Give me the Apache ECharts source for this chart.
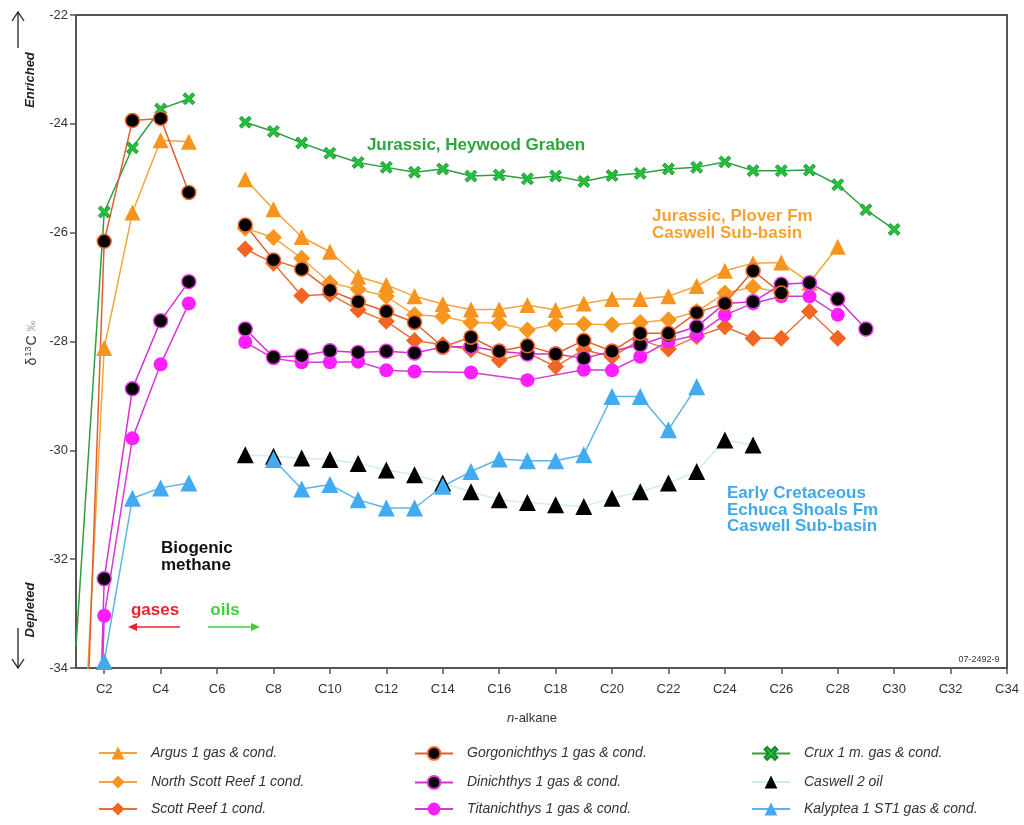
<!DOCTYPE html>
<html><head><meta charset="utf-8">
<script src="https://cdn.jsdelivr.net/npm/echarts@6/dist/echarts.min.js"></script>
<style>html,body{margin:0;padding:0;background:#fff}#c{width:1024px;height:825px}</style>
</head><body><div id="c"></div>
<script>
// carbon numbers C1..C30
const carbons = [1,2,3,4,5,6,7,8,9,10,11,12,13,14,15,16,17,18,19,20,21,22,23,24,25,26,27,28,29,30];
const xTickValues = [2,4,6,8,10,12,14,16,18,20,22,24,26,28,30,32,34];

const argus    = [-38.3,-28.12,-25.63,-24.30,-24.33,null,-25.02,-25.57,-26.08,-26.35,-26.81,-26.96,-27.17,-27.31,-27.41,-27.41,-27.33,-27.42,-27.30,-27.22,-27.22,-27.17,-26.98,-26.70,-26.56,-26.55,-26.92,-26.26,null,null];
const nScott   = [null,null,null,null,null,null,-25.92,-26.09,-26.47,-26.92,-27.04,-27.17,-27.51,-27.54,-27.65,-27.66,-27.79,-27.68,-27.68,-27.69,-27.65,-27.60,-27.45,-27.11,-27.00,-27.10,null,null,null,null];
const scottReef= [null,null,null,null,null,null,-26.30,-26.56,-27.16,-27.13,-27.42,-27.63,-27.98,-28.06,-28.15,-28.34,-28.21,-28.46,-28.15,-28.28,-27.97,-28.14,-27.91,-27.73,-27.94,-27.94,-27.45,-27.94,null,null];
const gorgon   = [-40.7,-26.16,-23.94,-23.90,-25.26,null,-25.86,-26.50,-26.67,-27.06,-27.27,-27.45,-27.65,-28.10,-27.92,-28.18,-28.08,-28.23,-27.98,-28.18,-27.85,-27.85,-27.47,-27.30,-26.70,-27.11,null,null,null,null];
const dinich   = [-50,-32.36,-28.87,-27.62,-26.90,null,-27.77,-28.29,-28.26,-28.17,-28.20,-28.18,-28.21,-28.10,-28.09,-28.18,-28.23,-28.23,-28.31,-28.18,-28.06,-27.89,-27.73,-27.30,-27.27,-26.95,-26.92,-27.22,-27.77,null];
const titan    = [-50,-33.04,-29.78,-28.42,-27.30,null,-28.01,-28.31,-28.38,-28.38,-28.37,-28.53,-28.55,null,-28.57,null,-28.71,null,-28.52,-28.53,-28.28,-28.00,-27.88,-27.51,-27.30,-27.17,-27.17,-27.51,null,null];
const crux     = [-33.6,-25.62,-24.44,-23.73,-23.54,null,-23.97,-24.14,-24.35,-24.54,-24.71,-24.80,-24.89,-24.83,-24.96,-24.94,-25.01,-24.96,-25.06,-24.95,-24.91,-24.83,-24.80,-24.70,-24.86,-24.86,-24.85,-25.12,-25.58,-25.94];
const caswell  = [null,null,null,null,null,null,-30.08,-30.11,-30.14,-30.17,-30.24,-30.36,-30.45,-30.60,-30.76,-30.91,-30.96,-31.00,-31.03,-30.88,-30.76,-30.60,-30.39,-29.81,-29.90,null,null,null,null,null];
const kalyptea = [-50,-33.88,-30.88,-30.69,-30.60,null,null,-30.17,-30.71,-30.63,-30.91,-31.06,-31.06,-30.66,-30.39,-30.16,-30.19,-30.19,-30.08,-29.01,-29.01,-29.62,-28.83,null,null,null,null,null,null,null];

const names = {
  argus:'Argus 1 gas & cond.', nScott:'North Scott Reef 1 cond.', scottReef:'Scott Reef 1 cond.',
  gorgon:'Gorgonichthys 1 gas & cond.', dinich:'Dinichthys 1 gas & cond.', titan:'Titanichthys 1 gas & cond.',
  crux:'Crux 1 m. gas & cond.', caswell:'Caswell 2 oil', kalyptea:'Kalyptea 1 ST1 gas & cond.'
};
// legend grid: columns then rows
const legendColumns = [[names.argus,names.nScott,names.scottReef],[names.gorgon,names.dinich,names.titan],[names.crux,names.caswell,names.kalyptea]];

function build(vals){
  const out=[];
  vals.forEach((v,i)=>{
    const c=carbons[i];
    if(v===null){ if(c===6) out.push([c,'-']); }
    else if(c===1) out.push({value:[c,v],symbol:'none'});
    else out.push([c,v]);
  });
  return out;
}
const X_PATH='path://M2,0 L5,3 L8,0 L10,2 L7,5 L10,8 L8,10 L5,7 L2,10 L0,8 L3,5 L0,2 Z';
function ser(name, vals, o){
  return {
    type:'line', name:name, data:build(vals), clip:true, connectNulls:false,
    symbol:o.symbol, symbolSize:o.size,
    lineStyle:{color:o.line, width:o.lw||1.5},
    itemStyle:{color:o.fill, borderColor:o.border||o.fill, borderWidth:o.bw||0},
    emphasis:{disabled:true}, animation:false
  };
}
const series=[
  ser(names.caswell, caswell, {symbol:'triangle', size:17, line:'#cdeeee', fill:'#000'}),
  ser(names.kalyptea, kalyptea, {symbol:'triangle', size:17, line:'#5ab4e6', fill:'#42aaee'}),
  ser(names.crux, crux, {symbol:X_PATH, size:12, line:'#2e9e40', fill:'#22c23a', border:'#16882a', bw:0.8}),
  ser(names.argus, argus, {symbol:'triangle', size:16, line:'#f5a43a', fill:'#f7941d'}),
  ser(names.nScott, nScott, {symbol:'diamond', size:17, line:'#f6a744', fill:'#f7961e'}),
  ser(names.scottReef, scottReef, {symbol:'diamond', size:17, line:'#e8713a', fill:'#f26522'}),
  ser(names.titan, titan, {symbol:'circle', size:14, line:'#d63ad6', fill:'#ff1eff'}),
  ser(names.dinich, dinich, {symbol:'circle', size:14, line:'#d32fd3', fill:'#000', border:'#e33ce3', bw:1.5}),
  ser(names.gorgon, gorgon, {symbol:'circle', size:14, line:'#e0602c', fill:'#000', border:'#ee6a2e', bw:1.5})
];

const T = 'Liberation Sans, Arial, sans-serif';
const legendLefts = [98, 414, 751];
const legendTops = [746, 775, 802];
const legends = [];
legendColumns.forEach((col,ci)=>col.forEach((nm,ri)=>{
  legends.push({orient:'vertical', left:legendLefts[ci], top:legendTops[ri], padding:0, itemWidth:38, itemHeight:16,
    data:[nm], selectedMode:false,
    textStyle:{fontFamily:T, fontStyle:'italic', fontSize:14, color:'#333', padding:[0,0,0,9]}});
}));

function txt(x,y,text,fill,opt){
  opt=opt||{};
  return {type:'text', x:x, y:y, rotation:opt.rot||0, silent:true,
    style:{text:text, fill:fill, font:(opt.font||'bold 17px '+T), align:opt.align||'left', verticalAlign:opt.va||'middle', lineHeight:opt.lh||16.5}};
}
function arrow(x1,y1,x2,y2,color,w){
  const a=Math.atan2(y2-y1,x2-x1), L=9, H=4;
  const p1=[x2-L*Math.cos(a)+H*Math.sin(a), y2-L*Math.sin(a)-H*Math.cos(a)];
  const p2=[x2-L*Math.cos(a)-H*Math.sin(a), y2-L*Math.sin(a)+H*Math.cos(a)];
  return [
    {type:'line', silent:true, shape:{x1:x1,y1:y1,x2:x2-L*0.7*Math.cos(a),y2:y2-L*0.7*Math.sin(a)}, style:{stroke:color, lineWidth:w||1.5}},
    {type:'polygon', silent:true, shape:{points:[[x2,y2],p1,p2]}, style:{fill:color}}
  ];
}
function openArrow(x1,y1,x2,y2,color){
  const a=Math.atan2(y2-y1,x2-x1), L=9, H=6;
  return [
    {type:'line', silent:true, shape:{x1:x1,y1:y1,x2:x2,y2:y2}, style:{stroke:color, lineWidth:1.3}},
    {type:'polyline', silent:true, shape:{points:[[x2-L*Math.cos(a)+H*Math.sin(a), y2-L*Math.sin(a)-H*Math.cos(a)],[x2,y2],[x2-L*Math.cos(a)-H*Math.sin(a), y2-L*Math.sin(a)+H*Math.cos(a)]]}, style:{stroke:color, lineWidth:1.3, fill:null}}
  ];
}

const graphics = [].concat(
  [txt(476,145,'Jurassic, Heywood Graben','#2ea63e',{align:'center'}),
   txt(652,225,'Jurassic, Plover Fm\nCaswell Sub-basin','#f4a330'),
   txt(727,510,'Early Cretaceous\nEchuca Shoals Fm\nCaswell Sub-basin','#42a9e8'),
   txt(161,557,'Biogenic\nmethane','#111'),
   txt(155,610,'gases','#e8252b',{align:'center'}),
   txt(225,610,'oils','#3cd23c',{align:'center'}),
   txt(979,660,'07-2492-9','#333',{align:'center', font:'9px '+T}),
   {type:'text', x:532, y:718, silent:true, style:{text:'{i|n}-alkane', fill:'#333', font:'13px '+T, align:'center', verticalAlign:'middle', rich:{i:{fontStyle:'italic', fontSize:13, fontFamily:T, fill:'#333'}}}},
   {type:'text', x:32, y:343, rotation:Math.PI/2, silent:true, style:{text:'δ{s|13}C {p|‰}', fill:'#333', font:'14px '+T, align:'center', verticalAlign:'middle', rich:{s:{fontSize:9, verticalAlign:'top', padding:[0,1,6,1], fill:'#333'}, p:{fontSize:11, fill:'#999'}}}},
   txt(30,80,'Enriched','#222',{rot:Math.PI/2, align:'center', font:'italic bold 13px '+T}),
   txt(30,610,'Depleted','#222',{rot:Math.PI/2, align:'center', font:'italic bold 13px '+T})
  ],
  arrow(180,627,128,627,'#e8252b',1.5),
  arrow(208,627,260,627,'#3cd23c',1.5),
  openArrow(18,48,18,12,'#222'),
  openArrow(18,628,18,668,'#222')
);

const chart = echarts.init(document.getElementById('c'), null, {renderer:'canvas'});
chart.setOption({
  backgroundColor:'#fff',
  animation:false,
  grid:{left:76, right:17, top:15, bottom:157, show:true, borderColor:'#555', borderWidth:2},
  xAxis:{type:'value', min:1, max:34,
    axisLine:{onZero:false, lineStyle:{color:'#555', width:2}},
    axisTick:{customValues:xTickValues, length:6, lineStyle:{color:'#555', width:1.5}},
    axisLabel:{customValues:xTickValues, formatter:v=>'C'+v, color:'#333', fontSize:13, fontFamily:T, margin:15},
    splitLine:{show:false}},
  yAxis:{type:'value', min:-34, max:-22, interval:2,
    axisLine:{show:true, onZero:false, lineStyle:{color:'#555', width:2}},
    axisTick:{show:true, length:6, lineStyle:{color:'#555', width:1.5}},
    axisLabel:{color:'#333', fontSize:13, fontFamily:T, margin:8},
    splitLine:{show:false}},
  legend:legends,
  graphic:graphics,
  series:series
});
</script></body></html>
